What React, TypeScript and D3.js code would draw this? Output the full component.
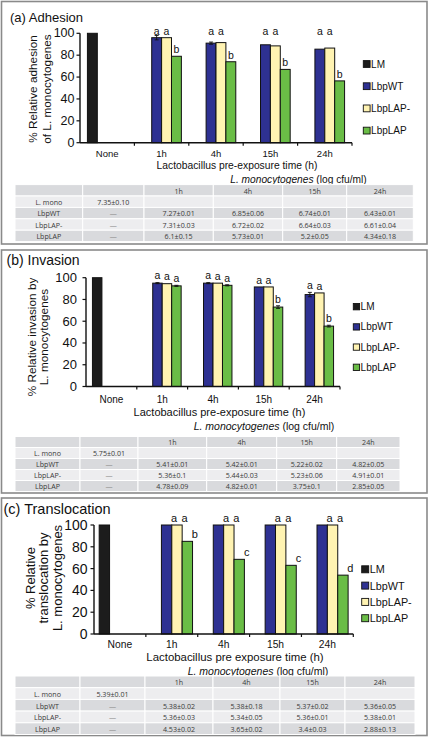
import React from 'react';
import * as d3 from 'd3';

// ---------- data ----------
const categories = ['None', '1h', '4h', '15h', '24h'];
const timeCats = ['1h', '4h', '15h', '24h'];
const seriesNames = ['LM', 'LbpWT', 'LbpLAP-', 'LbpLAP'];
const yTicks = [0, 20, 40, 60, 80, 100];
const tableRowLabels = ['L. mono', 'LbpWT', 'LbpLAP-', 'LbpLAP'];

// (a) Adhesion
const adhesionLM = 100;
const adhesionWT = [96, 91, 89.5, 85.5];
const adhesionLAPminus = [96, 91.5, 88.5, 86.5];
const adhesionLAP = [79, 74, 67, 56.5];
const adhesionWTErr = [2, 1, 0, 0];
const adhesionLAPminusErr = [0, 0, 0, 0];
const adhesionLAPErr = [0, 0, 0, 0];
const adhesionLettersWT = ['a', 'a', 'a', 'a'];
const adhesionLettersLAPminus = ['a', 'a', 'a', 'a'];
const adhesionLettersLAP = ['b', 'b', 'b', 'b'];
const adhesionTable = [
  ['7.35±0.10', '', '', '', ''],
  ['—', '7.27±0.01', '6.85±0.06', '6.74±0.01', '6.43±0.01'],
  ['—', '7.31±0.03', '6.72±0.02', '6.64±0.03', '6.61±0.04'],
  ['—', '6.1±0.15', '5.73±0.01', '5.2±0.05', '4.34±0.18'],
];

// (b) Invasion
const invasionLM = 100;
const invasionWT = [95, 95, 91.5, 84.5];
const invasionLAPminus = [94.5, 95, 91.5, 86];
const invasionLAP = [92.5, 93, 73, 55.5];
const invasionWTErr = [0.5, 0.5, 0, 2];
const invasionLAPminusErr = [0, 0, 0, 0];
const invasionLAPErr = [0.5, 0.5, 1.2, 0.8];
const invasionLettersWT = ['a', 'a', 'a', 'a'];
const invasionLettersLAPminus = ['a', 'a', 'a', 'a'];
const invasionLettersLAP = ['a', 'a', 'b', 'b'];
const invasionTable = [
  ['5.75±0.01', '', '', '', ''],
  ['—', '5.41±0.01', '5.42±0.01', '5.22±0.02', '4.82±0.05'],
  ['—', '5.36±0.1', '5.44±0.03', '5.23±0.06', '4.91±0.01'],
  ['—', '4.78±0.09', '4.82±0.01', '3.75±0.1', '2.85±0.05'],
];

// (c) Translocation
const translocationLM = 100;
const translocationWT = [100, 100, 100, 100];
const translocationLAPminus = [100, 100, 100, 100];
const translocationLAP = [85, 68.5, 63, 54];
const translocationWTErr = [0, 0, 0, 0];
const translocationLAPminusErr = [0, 0, 0, 0];
const translocationLAPErr = [0, 0, 0, 0];
const translocationLettersWT = ['a', 'a', 'a', 'a'];
const translocationLettersLAPminus = ['a', 'a', 'a', 'a'];
const translocationLettersLAP = ['b', 'c', 'c', 'd'];
const translocationTable = [
  ['5.39±0.01', '', '', '', ''],
  ['—', '5.38±0.02', '5.38±0.18', '5.37±0.02', '5.36±0.05'],
  ['—', '5.36±0.03', '5.34±0.05', '5.36±0.01', '5.38±0.01'],
  ['—', '4.53±0.02', '3.65±0.02', '3.4±0.03', '2.88±0.13'],
];

// ---------- styles ----------
const seriesColors: Record<string, string> = {
  LM: '#1c1c1c',
  LbpWT: '#2e3192',
  'LbpLAP-': '#fff3b2',
  LbpLAP: '#6abd46',
};
const FONT = "'Liberation Sans', Arial, sans-serif";
const TFONT = "'Open Sans', sans-serif";

type Cfg = any;

function Panel({ cfg, d }: { cfg: Cfg; d: any }) {
  const x0 = d3.scaleBand<string>().domain(categories).range([cfg.xL, cfg.xR]);
  const x1 = d3
    .scaleBand<string>()
    .domain(seriesNames)
    .range([0, x0.bandwidth()])
    .paddingOuter(cfg.pad);
  const y = d3.scaleLinear().domain([0, 100]).range([cfg.yB, cfg.yT]);
  const bw = x1.bandwidth();

  const bars: any[] = [{ cat: 'None', s: 'LM', v: d.lm, err: 0, letter: '' }];
  timeCats.forEach((c, i) => {
    bars.push({ cat: c, s: 'LbpWT', v: d.wt[i], err: d.wtErr[i], letter: d.wtL[i] });
    bars.push({ cat: c, s: 'LbpLAP-', v: d.lapm[i], err: d.lapmErr[i], letter: d.lapmL[i] });
    bars.push({ cat: c, s: 'LbpLAP', v: d.lap[i], err: d.lapErr[i], letter: d.lapL[i] });
  });

  const tCols = cfg.tCols;
  const rows = 5;

  return (
    <g>
      <rect x={cfg.box[0]} y={cfg.box[1]} width={cfg.box[2]} height={cfg.box[3]} fill="#fff" stroke="#8a8a8a" strokeWidth={1.6} />
      <text x={cfg.titleX} y={cfg.titleY} fontFamily={FONT} fontSize={cfg.titleFs} fill="#111">{cfg.title}</text>

      {/* y axis title */}
      {cfg.yTitle.map((t: string, i: number) => (
        <text key={i} transform={`translate(${cfg.yTitleX[i]},${cfg.yTitleCy}) rotate(-90)`} textAnchor="middle" dominantBaseline="central" fontFamily={FONT} fontSize={cfg.yTitleFs} fill="#111">{t}</text>
      ))}

      {/* bars */}
      {bars.map((b, i) => (
        <rect key={i} x={(x0(b.cat) as number) + (x1(b.s) as number)} y={y(b.v)} width={bw} height={y(0) - y(b.v)} fill={seriesColors[b.s]} stroke="#111" strokeWidth={1} />
      ))}
      {/* error bars */}
      {bars.filter((b) => b.err > 0).map((b, i) => {
        const cx = (x0(b.cat) as number) + (x1(b.s) as number) + bw / 2;
        return (
          <g key={i} stroke="#111" strokeWidth={0.9}>
            <line x1={cx} x2={cx} y1={y(b.v - b.err)} y2={y(b.v + b.err)} />
            <line x1={cx - 2} x2={cx + 2} y1={y(b.v + b.err)} y2={y(b.v + b.err)} />
            <line x1={cx - 2} x2={cx + 2} y1={y(b.v - b.err)} y2={y(b.v - b.err)} />
          </g>
        );
      })}
      {/* significance letters */}
      {bars.filter((b) => b.letter).map((b, i) => {
        const cx = (x0(b.cat) as number) + (x1(b.s) as number) + bw / 2 + cfg.letterDx;
        const ly = cfg.aTop && b.letter === 'a' ? y(100) + 1.5 : y(b.v + b.err) - 3.2;
        return (
          <text key={i} x={cx} y={ly} textAnchor="middle" fontFamily={FONT} fontSize={cfg.letterFs} fill="#111">{b.letter}</text>
        );
      })}

      {/* axes */}
      <line x1={cfg.xL} x2={cfg.xL} y1={y(0)} y2={y(100)} stroke="#111" strokeWidth={1.4} />
      <line x1={cfg.xL} x2={cfg.xR} y1={y(0)} y2={y(0)} stroke="#111" strokeWidth={1.4} />
      {yTicks.map((t) => (
        <g key={t}>
          <line x1={cfg.xL - 3.5} x2={cfg.xL} y1={y(t)} y2={y(t)} stroke="#111" strokeWidth={1.2} />
          <text x={cfg.yTickRight} y={y(t)} textAnchor="end" dominantBaseline="central" fontFamily={FONT} fontSize={cfg.yTickFs} fill="#111">{t}</text>
        </g>
      ))}
      {categories.map((c) => (
        <line key={c} x1={(x0(c) as number) + x0.bandwidth()} x2={(x0(c) as number) + x0.bandwidth()} y1={y(0)} y2={y(0) + 3} stroke="#111" strokeWidth={1.2} />
      ))}
      {categories.map((c) => (
        <text key={c} x={(x0(c) as number) + x0.bandwidth() / 2} y={cfg.xTickY} textAnchor="middle" dominantBaseline="central" fontFamily={FONT} fontSize={cfg.xTickFs} fill="#111">{c}</text>
      ))}
      <text x={cfg.xTitleX} y={cfg.xTitleY} textAnchor="middle" dominantBaseline="central" fontFamily={FONT} fontSize={cfg.xTitleFs} fill="#111">{cfg.xTitle}</text>

      {/* legend */}
      {seriesNames.map((s, i) => (
        <g key={s}>
          <rect x={cfg.legX} y={cfg.legY + i * cfg.legStep - cfg.legSq / 2} width={cfg.legSq} height={cfg.legSq} fill={seriesColors[s]} stroke="#111" strokeWidth={0.9} />
          <text x={cfg.legX + cfg.legSq + 1} y={cfg.legY + i * cfg.legStep} dominantBaseline="central" fontFamily={FONT} fontSize={cfg.legFs} fill="#111">{s}</text>
        </g>
      ))}

      {/* table title */}
      <text x={cfg.tTitleX} y={cfg.tTitleY} textAnchor="middle" dominantBaseline="central" fontFamily={FONT} fontSize={cfg.tTitleFs} fill="#111">
        <tspan fontStyle="italic">L. monocytogenes</tspan>
        <tspan> (log cfu/ml)</tspan>
      </text>

      {/* table */}
      {d3.range(rows).map((r) => (
        <g key={r}>
          {d3.range(6).map((c) => {
            const x = tCols[c];
            const w = tCols[c + 1] - tCols[c];
            const yy = cfg.tTop + r * cfg.tRowH;
            let label = '';
            if (r === 0) label = c >= 2 ? timeCats[c - 2] : '';
            else if (c === 0) label = tableRowLabels[r - 1];
            else label = d.table[r - 1][c - 1];
            return (
              <g key={c}>
                <rect x={x} y={yy} width={w} height={cfg.tRowH} fill={r % 2 === 0 ? '#d9dadd' : '#ededef'} stroke="#fff" strokeWidth={1} />
                {label && (
                  <text x={x + w / 2} y={yy + cfg.tRowH / 2 + 0.3} textAnchor="middle" dominantBaseline="central" fontFamily={TFONT} fontSize={cfg.tFs} fill={label === '—' ? '#8a8a8a' : '#3a3a3a'}>{label}</text>
                )}
              </g>
            );
          })}
        </g>
      ))}
    </g>
  );
}

const cfgA: Cfg = {
  box: [1.5, 1.5, 425.5, 242.5],
  title: '(a) Adhesion', titleX: 10, titleY: 22, titleFs: 13,
  xL: 80, xR: 352, yT: 33.3, yB: 142.7, pad: 0.75,
  yTitle: ['% Relative adhesion', 'of L. monocytogenes'], yTitleX: [33, 46.5], yTitleCy: 89, yTitleFs: 11.8,
  yTickRight: 74.5, yTickFs: 12.5,
  xTickY: 153.5, xTickFs: 9.5,
  xTitle: 'Lactobacillus pre-exposure time (h)', xTitleX: 237, xTitleY: 165, xTitleFs: 10.3,
  legX: 363.3, legY: 64, legStep: 22.2, legSq: 6.8, legFs: 10,
  letterDx: 0, letterFs: 10.5, aTop: true,
  tTitleX: 298.5, tTitleY: 179, tTitleFs: 10.2,
  tCols: [15, 82.7, 144, 213.3, 282.7, 346.7, 413.3], tTop: 184.6, tRowH: 11.4, tFs: 7.1,
};

const cfgB: Cfg = {
  box: [1.5, 250, 425.5, 243],
  title: '(b) Invasion', titleX: 6.5, titleY: 265, titleFs: 14,
  xL: 86, xR: 340, yT: 277.7, yB: 386.5, pad: 0.68,
  yTitle: ['% Relative invasion by', 'L. monocytogenes'], yTitleX: [31.5, 43.5], yTitleCy: 337, yTitleFs: 11.8,
  yTickRight: 77, yTickFs: 13,
  xTickY: 399.5, xTickFs: 10,
  xTitle: 'Lactobacillus pre-exposure time (h)', xTitleX: 219.5, xTitleY: 412, xTitleFs: 11,
  legX: 353.3, legY: 306.7, legStep: 20.2, legSq: 6.3, legFs: 10,
  letterDx: 0, letterFs: 10.5, aTop: false,
  tTitleX: 264, tTitleY: 426.2, tTitleFs: 10.5,
  tCols: [15, 80, 138, 206.7, 276.7, 336.7, 400], tTop: 436.5, tRowH: 11, tFs: 7.1,
};

const cfgC: Cfg = {
  box: [1.5, 498, 425.5, 237.5],
  title: '(c) Translocation', titleX: 3.5, titleY: 514, titleFs: 14.5,
  xL: 94, xR: 353.3, yT: 525, yB: 634, pad: 0.5,
  yTitle: ['% Relative', 'translocation by', 'L. monocytogenes'], yTitleX: [30, 43.5, 57.5], yTitleCy: 578, yTitleFs: 13,
  yTickRight: 87.5, yTickFs: 14,
  xTickY: 644.5, xTickFs: 10.3,
  xTitle: 'Lactobacillus pre exposure time (h)', xTitleX: 235, xTitleY: 656.5, xTitleFs: 11.4,
  legX: 361.7, legY: 569.3, legStep: 16.3, legSq: 7, legFs: 10.8,
  letterDx: 7.5, letterFs: 11, aTop: false,
  tTitleX: 258, tTitleY: 670.5, tTitleFs: 10.5,
  tCols: [15, 80, 145, 213, 280, 345, 415], tTop: 676, tRowH: 11.7, tFs: 7.1,
};

export default function App() {
  const dA = {
    lm: adhesionLM, wt: adhesionWT, lapm: adhesionLAPminus, lap: adhesionLAP,
    wtErr: adhesionWTErr, lapmErr: adhesionLAPminusErr, lapErr: adhesionLAPErr,
    wtL: adhesionLettersWT, lapmL: adhesionLettersLAPminus, lapL: adhesionLettersLAP,
    table: adhesionTable,
  };
  const dB = {
    lm: invasionLM, wt: invasionWT, lapm: invasionLAPminus, lap: invasionLAP,
    wtErr: invasionWTErr, lapmErr: invasionLAPminusErr, lapErr: invasionLAPErr,
    wtL: invasionLettersWT, lapmL: invasionLettersLAPminus, lapL: invasionLettersLAP,
    table: invasionTable,
  };
  const dC = {
    lm: translocationLM, wt: translocationWT, lapm: translocationLAPminus, lap: translocationLAP,
    wtErr: translocationWTErr, lapmErr: translocationLAPminusErr, lapErr: translocationLAPErr,
    wtL: translocationLettersWT, lapmL: translocationLettersLAPminus, lapL: translocationLettersLAP,
    table: translocationTable,
  };
  return (
    <svg width={430} height={739} style={{ position: 'absolute', left: 0, top: 0, background: '#fff' }}>
      <rect x={0} y={0} width={430} height={739} fill="#fff" />
      <Panel cfg={cfgA} d={dA} />
      <Panel cfg={cfgB} d={dB} />
      <Panel cfg={cfgC} d={dC} />
    </svg>
  );
}
